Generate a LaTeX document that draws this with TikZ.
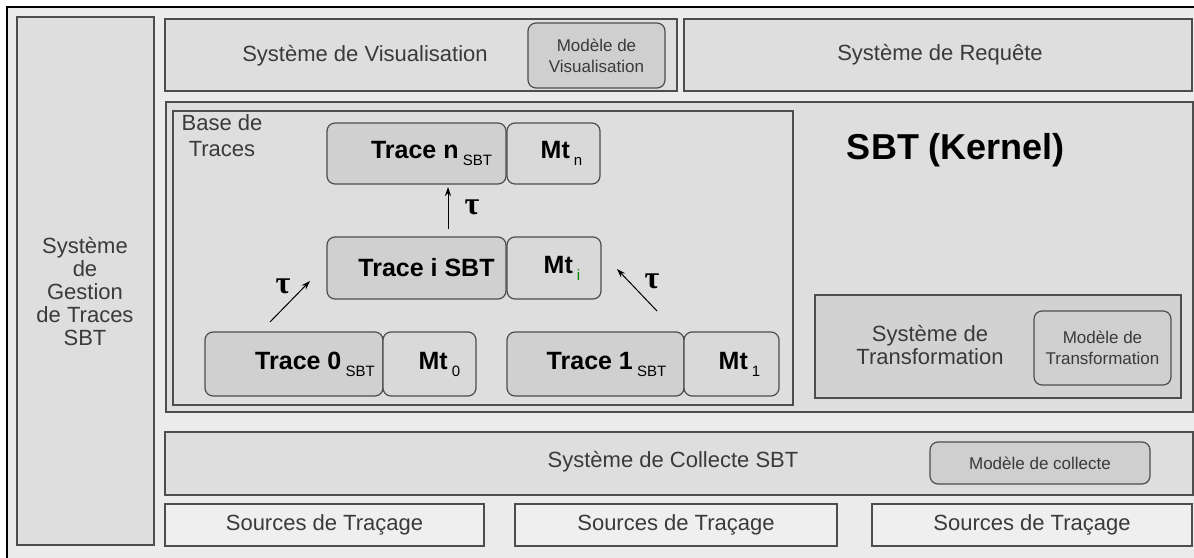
\documentclass[tikz,border=0pt]{standalone}
\usepackage{fontspec}
\setmainfont{Liberation Sans}
\newfontfamily\taufont{Liberation Serif}
\usetikzlibrary{arrows.meta}
\definecolor{cFond}{HTML}{EBEBEB}
\definecolor{cBoite}{HTML}{DEDEDE}
\definecolor{cModele}{HTML}{CFCFCF}
\definecolor{cTrace}{HTML}{D0D0D0}
\definecolor{cMt}{HTML}{D9D9D9}
\definecolor{cTransf}{HTML}{D2D2D2}
\definecolor{cSource}{HTML}{EFEFEF}
\definecolor{cTrait}{HTML}{4D4D4D}
\definecolor{cTexte}{HTML}{3A3A3A}
\newcommand{\indice}[1]{\,\raisebox{-7pt}{\mdseries\fontsize{15}{15}\selectfont #1}}

\begin{document}
\begin{tikzpicture}[x=1pt,y=-1pt]
      \tikzstyle{every node}+=[inner sep=0pt, outer sep=0pt]
      \tikzstyle{boite}=[draw=cTrait, line width=1.4pt, fill=cBoite, rectangle]
      \tikzstyle{modele}=[draw=cTrait, line width=1.2pt, fill=cModele, rounded corners=8pt, align=center, text=cTexte, font=\fontsize{17}{21}\selectfont]
      \tikzstyle{trace}=[modele, fill=cTrace]
      \tikzstyle{mt}=[modele, fill=cMt]
      \tikzstyle{lbl}=[text=cTexte, align=center, font=\fontsize{22}{23}\selectfont]
      \tikzstyle{gras}=[text=black, font=\bfseries\fontsize{25}{25}\selectfont]
      \tikzstyle{fleche}=[-{Stealth[length=9pt,width=6pt]}, line width=1pt]
      \tikzstyle{tau}=[font=\taufont\bfseries\fontsize{32}{32}\selectfont]
      \useasboundingbox (0,0) rectangle (1194,557);
      \fill [white] (0,0) rectangle (1194,557);
      \draw [black, line width=1.6pt, fill=cFond] (7,7) rectangle (1210,570);
      \node [boite, minimum width=137pt, minimum height=528pt] (gest) at (85.5,281) {};
      \node [lbl] (gestTxt) at (85,292) {Système\\de\\Gestion\\de Traces\\SBT};
      \node [boite, minimum width=512pt, minimum height=72pt] (vis) at (421,55) {};
      \node [lbl] (visTxt) at (365,56) {Système de Visualisation};
      \node [modele, minimum width=137pt, minimum height=65pt] (mvis) at (596.5,55.5) {Modèle de\\Visualisation};
      \node [boite, minimum width=508pt, minimum height=72pt] (req) at (938,55) {};
      \node [lbl] (reqTxt) at (940,55) {Système de Requête};
      \node [boite, minimum width=1027pt, minimum height=310pt] (noyau) at (679.5,257) {};
      \node [text=black, font=\bfseries\fontsize{36}{36}\selectfont] (noyauTxt) at (956,150) {SBT (Kernel)};
      \node [boite, minimum width=620pt, minimum height=294pt] (base) at (483,258) {};
      \node [lbl, anchor=north, font=\fontsize{22}{26}\selectfont] (baseTxt) at (222,115) {Base de\\Traces};
      \node [trace, minimum width=179pt, minimum height=61pt, label={[gras, xshift=15pt]center:Trace n\indice{SBT}}] (tn) at (416.5,153.5) {};
      \node [mt, minimum width=93pt, minimum height=61pt, label={[gras, xshift=8pt]center:Mt\indice{n}}] (mtn) at (553.5,153.5) {};
      \node [trace, minimum width=179pt, minimum height=62pt, label={[gras, xshift=10pt]center:Trace i SBT}] (ti) at (416.5,268) {};
      \node [mt, minimum width=94pt, minimum height=62pt, label={[gras, xshift=8pt]center:Mt\indice{\color{green!50!black}i}}] (mti) at (554,268) {};
      \node [trace, minimum width=178pt, minimum height=64pt, label={[gras, xshift=21pt]center:Trace 0\indice{SBT}}] (t0) at (294,364) {};
      \node [mt, minimum width=93pt, minimum height=64pt, label={[gras, xshift=10pt]center:Mt\indice{0}}] (mt0) at (429.5,364) {};
      \node [trace, minimum width=177pt, minimum height=64pt, label={[gras, xshift=11pt]center:Trace 1\indice{SBT}}] (t1) at (595.5,364) {};
      \node [mt, minimum width=95pt, minimum height=64pt, label={[gras, xshift=8pt]center:Mt\indice{1}}] (mt1) at (731.5,364) {};
      \coordinate (g0) at (270,322);
      \coordinate (gi) at (310,281);
      \coordinate (d1) at (657,311);
      \coordinate (di) at (617,269);
      \draw [fleche, shorten <=8pt, shorten >=3pt] ([xshift=31.5pt]ti.north) -- ([xshift=31.5pt]tn.south);
      \draw [fleche] (g0) -- (gi);
      \draw [fleche] (d1) -- (di);
      \node [tau] (tauN) at (472,207) {τ};
      \node [tau] (tau0) at (283,286) {τ};
      \node [tau] (tau1) at (652,281) {τ};
      \node [boite, fill=cTransf, minimum width=366pt, minimum height=103pt] (transf) at (998,346.5) {};
      \node [lbl] (transfTxt) at (930,345) {Système de\\Transformation};
      \node [modele, minimum width=137pt, minimum height=74pt] (mtransf) at (1102.5,348) {Modèle de\\Transformation};
      \node [boite, minimum width=1028pt, minimum height=63pt] (coll) at (679,463.5) {};
      \node [lbl] (collTxt) at (673,462) {Système de Collecte SBT};
      \node [modele, minimum width=220pt, minimum height=42pt] (mcoll) at (1040,463) {Modèle de collecte};
      \node [boite, fill=cSource, minimum width=319pt, minimum height=42pt] (src1) at (324.5,525) {};
      \node [lbl] (src1Txt) at (324.5,525) {Sources de Traçage};
      \node [boite, fill=cSource, minimum width=322pt, minimum height=42pt] (src2) at (676,525) {};
      \node [lbl] (src2Txt) at (676,525) {Sources de Traçage};
      \node [boite, fill=cSource, minimum width=320pt, minimum height=42pt] (src3) at (1032,525) {};
      \node [lbl] (src3Txt) at (1032,525) {Sources de Traçage};
\end{tikzpicture}
\end{document}
